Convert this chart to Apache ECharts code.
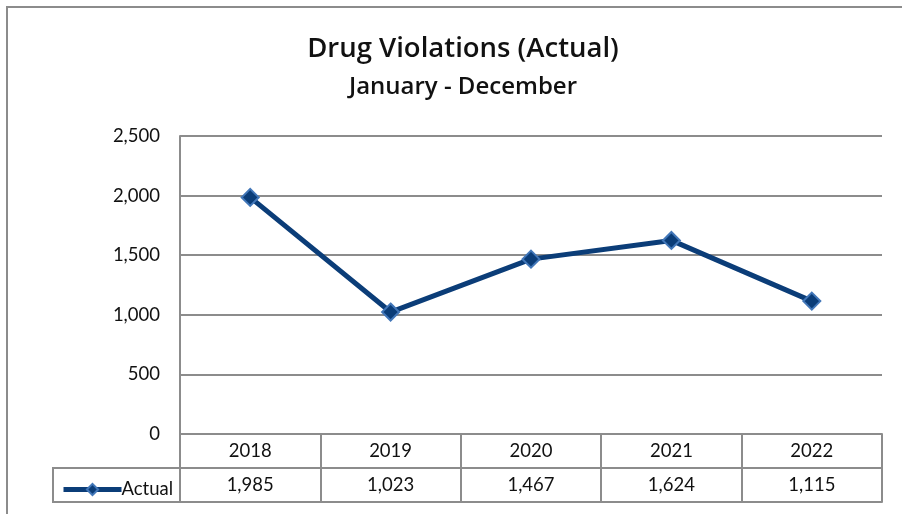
<!DOCTYPE html>
<html>
<head>
<meta charset="utf-8">
<script src="https://cdn.jsdelivr.net/npm/echarts@6/dist/echarts.min.js"></script>
<style>html,body{margin:0;padding:0;background:#fff;}#c{width:902px;height:514px;}</style>
</head>
<body>
<div id="c"></div>
<script>
const years = ['2018', '2019', '2020', '2021', '2022'];
const actual = [1985, 1023, 1467, 1624, 1115];
const yTicks = [0, 500, 1000, 1500, 2000, 2500];
const seriesName = 'Actual';
const titleText = 'Drug Violations (Actual)';
const subtitleText = 'January - December';

const FONT = 'Lato';
const TFONT = 'Open Sans';
const GRAY = '#8c8c8c';
const FS = 18.5;
const fmt = v => Number(v).toLocaleString('en-US');

const chart = echarts.init(document.getElementById('c'));
chart.setOption({
  backgroundColor: '#fff',
  animation: false,
  title: [
    { text: titleText, left: 458, textAlign: 'center', top: 30, textStyle: { fontFamily: TFONT, fontWeight: 600, fontSize: 27.5, color: '#111' } },
    { text: subtitleText, left: 458, textAlign: 'center', top: 70, textStyle: { fontFamily: TFONT, fontWeight: 600, fontSize: 24, color: '#111' } }
  ],
  legend: {
    data: [seriesName], left: 56, top: 475, itemWidth: 58, itemHeight: 14, itemGap: 0,
    lineStyle: { width: 5 },
    textStyle: { fontFamily: FONT, fontSize: FS, color: '#111', padding: [0, 0, 0, -5] }
  },
  grid: { left: 180, right: 20, top: 136, bottom: 80 },
  xAxis: [
    {
      type: 'category', data: years, boundaryGap: true, position: 'bottom',
      axisLine: { show: true, lineStyle: { color: GRAY, width: 2 } },
      axisTick: { show: true, length: 68, interval: 0, alignWithLabel: false, lineStyle: { color: GRAY, width: 2 } },
      axisLabel: { margin: 8, fontFamily: FONT, fontSize: FS, color: '#111' },
      splitLine: { show: false }
    },
    {
      type: 'category', data: years, boundaryGap: true, position: 'bottom', offset: 34,
      axisLine: { show: true, lineStyle: { color: GRAY, width: 2 } },
      axisTick: { show: false },
      axisLabel: { margin: 8, fontFamily: FONT, fontSize: FS, color: '#111', formatter: (v, i) => fmt(actual[i]) }
    },
    {
      type: 'category', data: years, boundaryGap: true, position: 'bottom', offset: 68,
      axisLine: { show: true, lineStyle: { color: GRAY, width: 2 } },
      axisTick: { show: false }, axisLabel: { show: false }
    }
  ],
  yAxis: {
    type: 'value', min: yTicks[0], max: yTicks[yTicks.length - 1], interval: yTicks[1] - yTicks[0],
    axisLine: { show: true, lineStyle: { color: GRAY, width: 2 } },
    axisTick: { show: false },
    axisLabel: { margin: 20, fontFamily: FONT, fontSize: FS, color: '#111', formatter: v => fmt(v) },
    splitLine: { show: true, lineStyle: { color: GRAY, width: 2 } }
  },
  series: [{
    name: seriesName, type: 'line', data: actual, xAxisIndex: 0,
    symbol: 'diamond', symbolSize: 17,
    lineStyle: { color: '#0b3d78', width: 5 },
    itemStyle: { color: '#0b3d78', borderColor: '#4176b8', borderWidth: 2 },
    z: 5
  }],
  graphic: [
    { type: 'rect', shape: { x: 7, y: 7, width: 1000, height: 700 }, style: { fill: 'none', stroke: GRAY, lineWidth: 2 }, silent: true },
    { type: 'rect', shape: { x: 53, y: 468, width: 127, height: 34 }, style: { fill: 'none', stroke: GRAY, lineWidth: 2 }, silent: true }
  ]
});
</script>
</body>
</html>
